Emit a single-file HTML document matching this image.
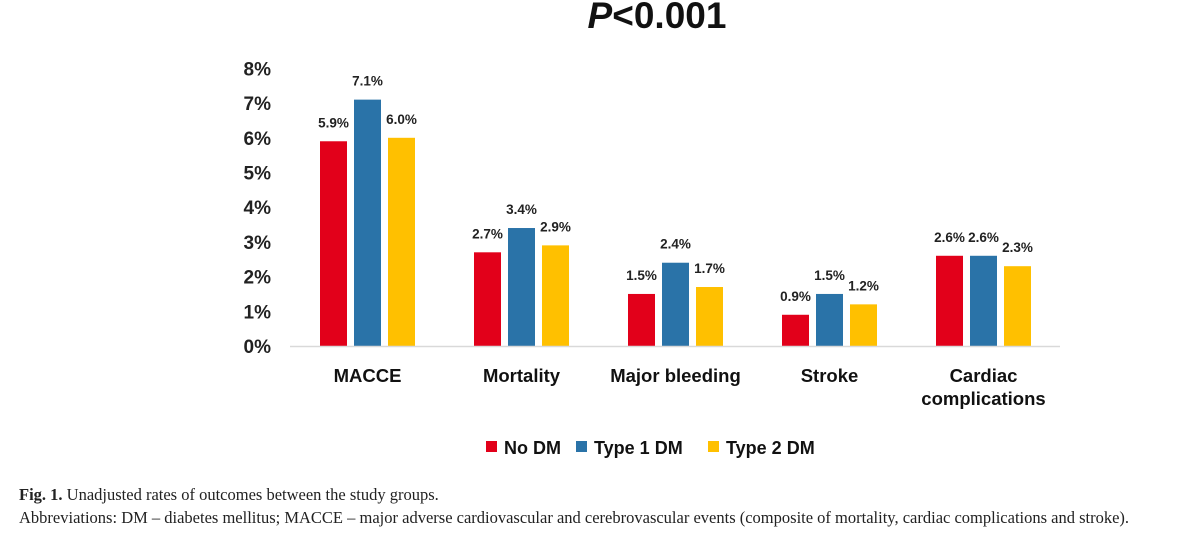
<!DOCTYPE html>
<html><head><meta charset="utf-8"><style>
body{margin:0;background:#fff;width:1200px;height:553px;overflow:hidden;font-family:"Liberation Sans",sans-serif}
.cap{position:absolute;left:19px;font-family:"Liberation Serif",serif;font-size:16.5px;color:#222;white-space:nowrap}
</style></head><body>
<svg width="1200" height="470" style="position:absolute;left:0;top:0" xmlns="http://www.w3.org/2000/svg">
<text x="657" y="28" text-anchor="middle" font-family="Liberation Sans" font-weight="bold" font-size="37" fill="#111"><tspan font-style="italic">P</tspan>&lt;0.001</text>
<g id="yaxis"></g><g id="bars"></g><g id="xlabels"></g>
<line x1="290" y1="346.5" x2="1060" y2="346.5" stroke="#d9d9d9" stroke-width="1.5"/>
<g font-family="Liberation Sans" font-weight="bold" font-size="18" fill="#111">
<rect x="486" y="441" width="11" height="11" fill="#e2001a"/>
<text x="504" y="454">No DM</text>
<rect x="576" y="441" width="11" height="11" fill="#2a73a8"/>
<text x="594" y="454">Type 1 DM</text>
<rect x="708" y="441" width="11" height="11" fill="#ffc000"/>
<text x="726" y="454">Type 2 DM</text>
</g>
</svg>
<div class="cap" style="top:485px"><b>Fig. 1.</b> Unadjusted rates of outcomes between the study groups.</div>
<div class="cap" style="top:508px">Abbreviations: DM – diabetes mellitus; MACCE – major adverse cardiovascular and cerebrovascular events (composite of mortality, cardiac complications and stroke).</div>
<script>
const categories=[["MACCE"],["Mortality"],["Major bleeding"],["Stroke"],["Cardiac","complications"]];
const noDM=[5.9,2.7,1.5,0.9,2.6];
const type1DM=[7.1,3.4,2.4,1.5,2.6];
const type2DM=[6.0,2.9,1.7,1.2,2.3];
const yTicks=[0,1,2,3,4,5,6,7,8];
const series=[noDM,type1DM,type2DM];
const seriesNames=["no-dm","type1-dm","type2-dm"];
const colors=["#e2001a","#2a73a8","#ffc000"];
const NS="http://www.w3.org/2000/svg";
const y=v=>346-v*34.7;
const gx=i=>367.5+i*154;
function mk(tag,attrs,parent,text){const e=document.createElementNS(NS,tag);for(const k in attrs)e.setAttribute(k,attrs[k]);if(text!=null)e.textContent=text;parent.appendChild(e);return e;}
const ya=document.getElementById('yaxis'),bg=document.getElementById('bars'),xl=document.getElementById('xlabels');
yTicks.forEach(t=>{const e=mk('text',{x:271,y:y(t)+7,'text-anchor':'end','font-weight':'bold','font-size':19,fill:'#222'},ya,t+'%');

});
categories.forEach((c,i)=>{
 series.forEach((s,j)=>{const cx=gx(i)+(j-1)*34;
  const r=mk('rect',{x:cx-13.5,y:y(s[i]),width:27,height:346-y(s[i]),fill:colors[j]},bg);
  
  
  const t=mk('text',{x:cx,y:y(s[i])-14,'text-anchor':'middle','font-weight':'bold','font-size':13.5,fill:'#222'},bg,s[i].toFixed(1)+'%');
  
  
 });
 c.forEach((line,k)=>{const t=mk('text',{x:gx(i),y:382+k*23,'text-anchor':'middle','font-weight':'bold','font-size':18.5,fill:'#111'},xl,line);
  
  });
});
</script>
</body></html>
